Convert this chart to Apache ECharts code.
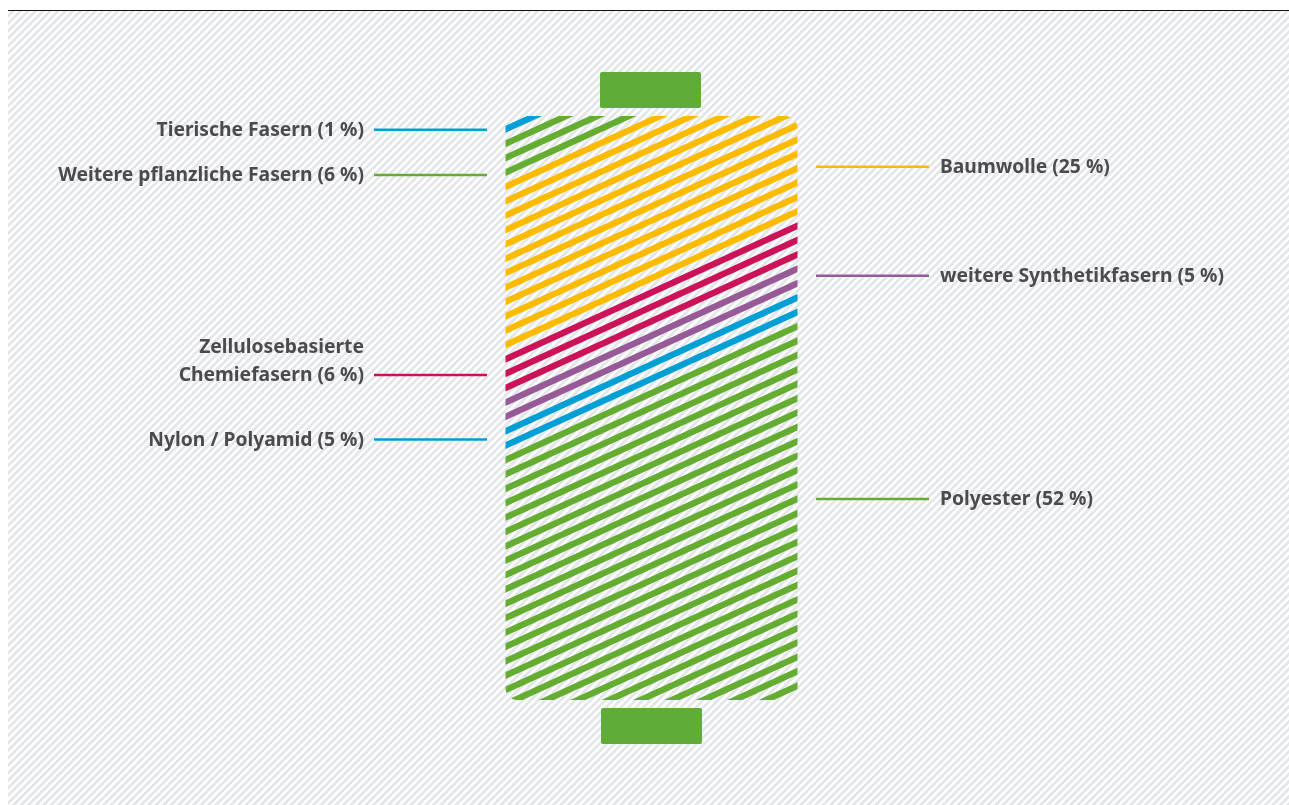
<!DOCTYPE html>
<html>
<head>
<meta charset="utf-8">
<title>Fasern</title>
<style>
  html, body { margin: 0; padding: 0; background: #fff; overflow: hidden; }
  #hatch {
    position: absolute; left: 8px; top: 11px; right: 0; bottom: 0;
    background: repeating-linear-gradient(135deg, #fff 0, #fff 1.9px, #e4e7e9 2.5px, #e4e7e9 4.7px, #fff 5.3px);
  }
  #rule { position: absolute; left: 8px; right: 0; top: 9.5px; height: 1.5px; background: #111; }
  #main { position: absolute; left: 0; top: 0; width: 1289px; height: 805px; }
</style>
</head>
<body>
<div id="hatch"></div>
<div id="rule"></div>
<div id="main"></div>
<script src="https://cdn.jsdelivr.net/npm/echarts@6/dist/echarts.min.js"></script>
<script>
// Fasern, top to bottom along the spool
const fibres = ["Tierische Fasern", "Weitere pflanzliche Fasern", "Baumwolle", "Zellulosebasierte\nChemiefasern", "weitere Synthetikfasern", "Nylon / Polyamid", "Polyester"];
const shares = [1, 6, 25, 6, 5, 5, 52];
// number of stripes counted per fibre in the picture
const stripeCounts = [1, 3, 12, 3, 2, 2, 26];
const colors = ["#009fd6", "#64ad31", "#fdbb00", "#cc1259", "#985a96", "#009fd6", "#64ad31"];

// stripe rows, one entry per stripe: [row, fibre]
const rows = [];
stripeCounts.forEach((count, fibre) => {
  for (let i = 0; i < count; i++) rows.push([rows.length, fibre]);
});

const mChart = echarts.init(document.getElementById("main"));

// each stripe climbs this many rows from the left to the right edge of the spool
const climb = 9.3;

const renderStripe = (params, api) => {
  const row = api.value(0);
  const cs = params.coordSys;
  const from = api.coord([-0.1, row - climb * -0.1]);
  const to = api.coord([1.1, row - climb * 1.1]);
  return {
    type: "line",
    shape: { x1: from[0], y1: from[1], x2: to[0], y2: to[1] },
    style: { stroke: colors[api.value(1)], lineWidth: 6.4, fill: null },
    clipPath: {
      type: "rect",
      shape: { x: cs.x, y: cs.y, width: cs.width, height: cs.height, r: 12 },
    },
  };
};

// leader line + label for each fibre
const leaders = [
  { fibre: 0, y: 129.7, side: "left" },
  { fibre: 1, y: 175, side: "left" },
  { fibre: 2, y: 166.7, side: "right" },
  { fibre: 3, y: 375, side: "left" },
  { fibre: 4, y: 275.7, side: "right" },
  { fibre: 5, y: 439.4, side: "left" },
  { fibre: 6, y: 499, side: "right" },
];

const graphics = [
  { type: "rect", shape: { x: 600, y: 72, width: 101, height: 36, r: 2 }, style: { fill: "#5fad37" } },
  { type: "rect", shape: { x: 601, y: 708, width: 101, height: 36, r: 2 }, style: { fill: "#5fad37" } },
];
leaders.forEach((l) => {
  const left = l.side === "left";
  graphics.push({
    type: "line",
    shape: { x1: left ? 374 : 816, y1: l.y, x2: left ? 487 : 929, y2: l.y },
    style: { stroke: colors[l.fibre], lineWidth: 2.5 },
  });
  graphics.push({
    type: "text",
    x: left ? 364 : 940,
    y: l.y + 15,
    style: {
      text: fibres[l.fibre] + " (" + shares[l.fibre] + " %)",
      font: "bold 19.3px 'Noto Sans'",
      fill: "#4a4a4f",
      align: left ? "right" : "left",
      verticalAlign: "bottom",
      lineHeight: 28.5,
    },
  });
});

mChart.setOption({
  animation: false,
  grid: { left: 505.5, top: 116, width: 292, height: 584 },
  xAxis: { type: "value", min: 0, max: 1, show: false },
  yAxis: { type: "value", inverse: true, min: -0.93, max: 39.7, show: false },
  series: [
    { type: "custom", coordinateSystem: "cartesian2d", data: rows, renderItem: renderStripe, clip: false, silent: true },
  ],
  graphic: graphics,
});
</script>
</body>
</html>
